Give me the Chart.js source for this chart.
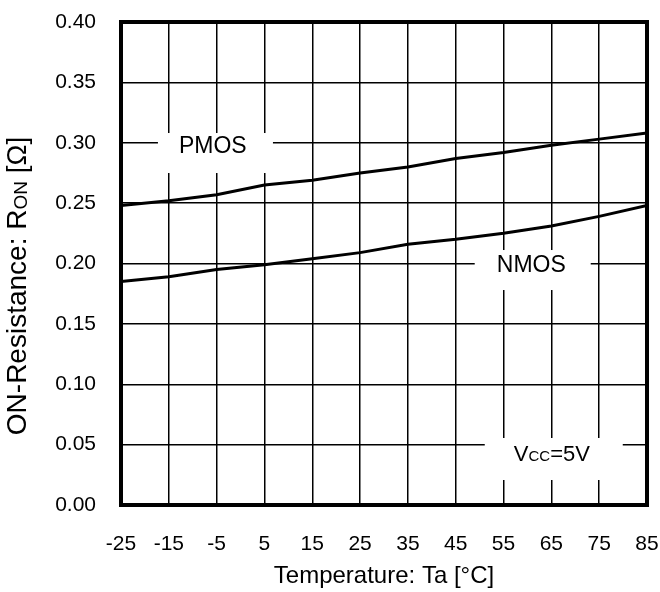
<!DOCTYPE html>
<html>
<head>
<meta charset="utf-8">
<script src="https://cdn.jsdelivr.net/npm/chart.js@4"></script>
<style>
  body { margin: 0; background: #fff; }
  #wrap { width: 660px; height: 592px; }
</style>
</head>
<body>
<div id="wrap"><canvas id="ronChart"></canvas></div>
<script>
// Data
const temps = [-25, -15, -5, 5, 15, 25, 35, 45, 55, 65, 75, 85];
const pmosRon = [0.248, 0.252, 0.257, 0.265, 0.269, 0.275, 0.280, 0.287, 0.292, 0.298, 0.303, 0.308];
const nmosRon = [0.185, 0.189, 0.195, 0.199, 0.204, 0.209, 0.216, 0.220, 0.225, 0.231, 0.239, 0.248];
const xTicks = [-25, -15, -5, 5, 15, 25, 35, 45, 55, 65, 75, 85];
const yTicks = [0, 0.05, 0.10, 0.15, 0.20, 0.25, 0.30, 0.35, 0.40];

const FONT = '"Liberation Sans", Arial, sans-serif';

// label boxes that blank out the grid (box centre + text centre in data units)
const labels = [
    { text: 'PMOS', bx: -5.25, by: 0.2915, tx: -5.8, ty: 0.297, w: 115, h: 40 },
    { text: 'NMOS', bx: 61.1, by: 0.1946, tx: 60.8, ty: 0.198, w: 116, h: 40 },
    { text: 'VCC', bx: 65.5, by: 0.0381, tx: 65.1, ty: 0.0414, w: 138, h: 42 }
];

// draws a run of [text, size, dy] pieces centred on x
function drawRuns(ctx, parts, cx, cy) {
    let total = 0;
    parts.forEach(function(p) { ctx.font = p[1] + 'px ' + FONT; total += ctx.measureText(p[0]).width; });
    let x0 = cx - total / 2;
    ctx.textAlign = 'left';
    ctx.textBaseline = 'middle';
    parts.forEach(function(p) {
        ctx.font = p[1] + 'px ' + FONT;
        ctx.fillText(p[0], x0, cy + p[2]);
        x0 += ctx.measureText(p[0]).width;
    });
}

const framePlugin = {
    id: 'frame',
    beforeDatasetsDraw(chart) {
        const ctx = chart.ctx;
        const xs = chart.scales.x, ys = chart.scales.y;
        ctx.save();
        labels.forEach(function(l) {
            const bx = xs.getPixelForValue(l.bx), by = ys.getPixelForValue(l.by);
            const tx = xs.getPixelForValue(l.tx), ty = ys.getPixelForValue(l.ty);
            ctx.fillStyle = '#fff';
            ctx.fillRect(bx - l.w / 2, by - l.h / 2, l.w, l.h);
            ctx.fillStyle = '#000';
            if (l.text === 'VCC') {
                drawRuns(ctx, [['V', 22, 0], ['CC', 15, 2], ['=5V', 22, 0]], tx, ty);
            } else {
                drawRuns(ctx, [[l.text, 23, 0]], tx, ty);
            }
        });
        ctx.restore();
    },
    afterDraw(chart) {
        const ctx = chart.ctx, a = chart.chartArea;
        ctx.save();
        ctx.strokeStyle = '#000';
        ctx.lineWidth = 4;
        ctx.strokeRect(a.left, a.top, a.right - a.left, a.bottom - a.top);

        // y axis title with subscript
        ctx.translate(18, 286);
        ctx.rotate(-Math.PI / 2);
        ctx.fillStyle = '#000';
        drawRuns(ctx, [['ON-Resistance: R', 28, 0], ['ON', 19, 4], [' [\u03a9]', 28, 0]], 0, 0);
        ctx.restore();
    }
};

const ctx = document.getElementById('ronChart').getContext('2d');
new Chart(ctx, {
    type: 'line',
    data: {
        datasets: [{
            label: 'PMOS',
            data: temps.map(function(t, i) { return { x: t, y: pmosRon[i] }; }),
            borderColor: '#000',
            borderWidth: 3,
            pointRadius: 0,
            tension: 0
        }, {
            label: 'NMOS',
            data: temps.map(function(t, i) { return { x: t, y: nmosRon[i] }; }),
            borderColor: '#000',
            borderWidth: 3,
            pointRadius: 0,
            tension: 0
        }]
    },
    options: {
        responsive: true,
        maintainAspectRatio: false,
        animation: false,
        layout: { padding: { left: 0, top: 22, right: 13, bottom: 0 } },
        plugins: {
            legend: { display: false },
            tooltip: { enabled: false }
        },
        scales: {
            x: {
                type: 'linear',
                min: -25,
                max: 85,
                afterBuildTicks: function(scale) {
                    scale.ticks = xTicks.map(function(v) { return { value: v }; });
                },
                afterFit: function(scale) {
                    scale.height = 87;
                    scale.paddingLeft = 0;
                    scale.paddingRight = 0;
                },
                grid: { color: '#000', lineWidth: 1.5, drawTicks: false },
                border: { display: false },
                ticks: {
                    color: '#000',
                    padding: 27,
                    maxRotation: 0,
                    autoSkip: false,
                    font: { family: FONT, size: 21 }
                },
                title: {
                    display: true,
                    text: 'Temperature: Ta [\u00b0C]',
                    color: '#000',
                    font: { family: FONT, size: 24 },
                    padding: { top: 0, bottom: 1 }
                }
            },
            y: {
                min: 0,
                max: 0.4,
                afterBuildTicks: function(scale) {
                    scale.ticks = yTicks.map(function(v) { return { value: v }; });
                },
                afterFit: function(scale) {
                    scale.width = 121;
                    scale.paddingTop = 0;
                    scale.paddingBottom = 0;
                },
                grid: { color: '#000', lineWidth: 1.5, drawTicks: false },
                border: { display: false },
                ticks: {
                    color: '#000',
                    padding: 25,
                    font: { family: FONT, size: 21 },
                    callback: function(v) { return v.toFixed(2); }
                }
            }
        }
    },
    plugins: [framePlugin]
});
</script>
</body>
</html>
